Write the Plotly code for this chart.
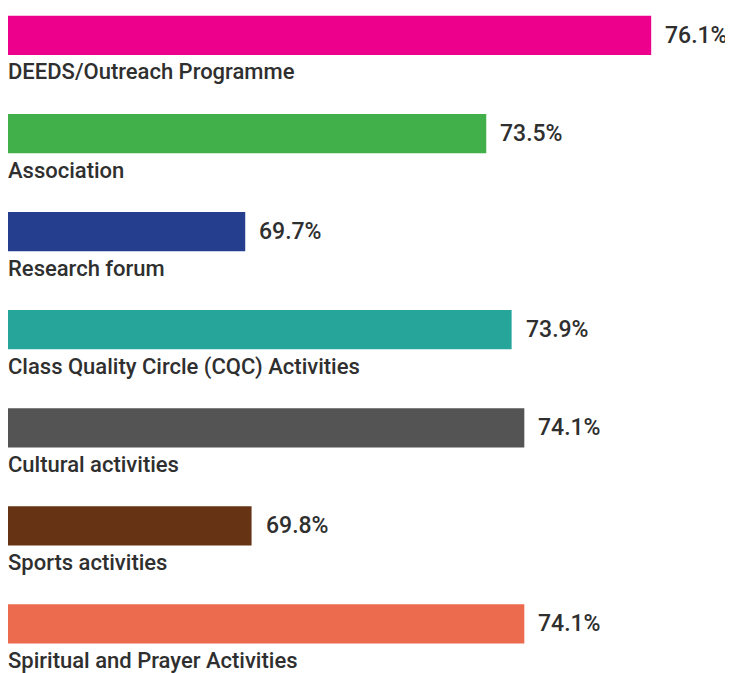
import plotly.graph_objects as go

# Data
categories = [
    "DEEDS/Outreach Programme",
    "Association",
    "Research forum",
    "Class Quality Circle (CQC) Activities",
    "Cultural activities",
    "Sports activities",
    "Spiritual and Prayer Activities",
]
values = [76.1, 73.5, 69.7, 73.9, 74.1, 69.8, 74.1]
colors = ["#EC008C", "#41B04A", "#253F8E", "#26A69A", "#545454", "#663314", "#EC6A4E"]

FONT = "Roboto, Arial, sans-serif"
TEXT_COLOR = "#2f2f2f"

fig = go.Figure(
    go.Bar(
        x=values,
        y=categories,
        orientation="h",
        marker=dict(color=colors, line=dict(width=0)),
        width=0.4,
        hoverinfo="skip",
    )
)

# category name below each bar, value to the right
for cat, val in zip(categories, values):
    fig.add_annotation(
        x=65.96, y=cat, xref="x", yref="y",
        text=cat, showarrow=False,
        xanchor="left", yanchor="top", yshift=-22, xshift=-2,
        font=dict(family=FONT, size=22, color=TEXT_COLOR, weight=500),
    )
    fig.add_annotation(
        x=val, y=cat, xref="x", yref="y",
        text=f"{val:.1f}%", showarrow=False,
        xanchor="left", yanchor="middle", xshift=12,
        font=dict(family=FONT, size=23, color=TEXT_COLOR, weight=500),
    )

# the page body adds an 8px margin, so the figure is a bit smaller
fig.update_layout(
    width=725, height=665,
    margin=dict(l=0, r=0, t=0, b=0),
    plot_bgcolor="white", paper_bgcolor="white",
    showlegend=False,
    xaxis=dict(range=[65.96, 77.39], visible=False),
    yaxis=dict(
        type="category",
        categoryorder="array",
        categoryarray=categories,
        range=[6.5, -0.28],
        visible=False,
    ),
)

fig.write_html("out.html")
